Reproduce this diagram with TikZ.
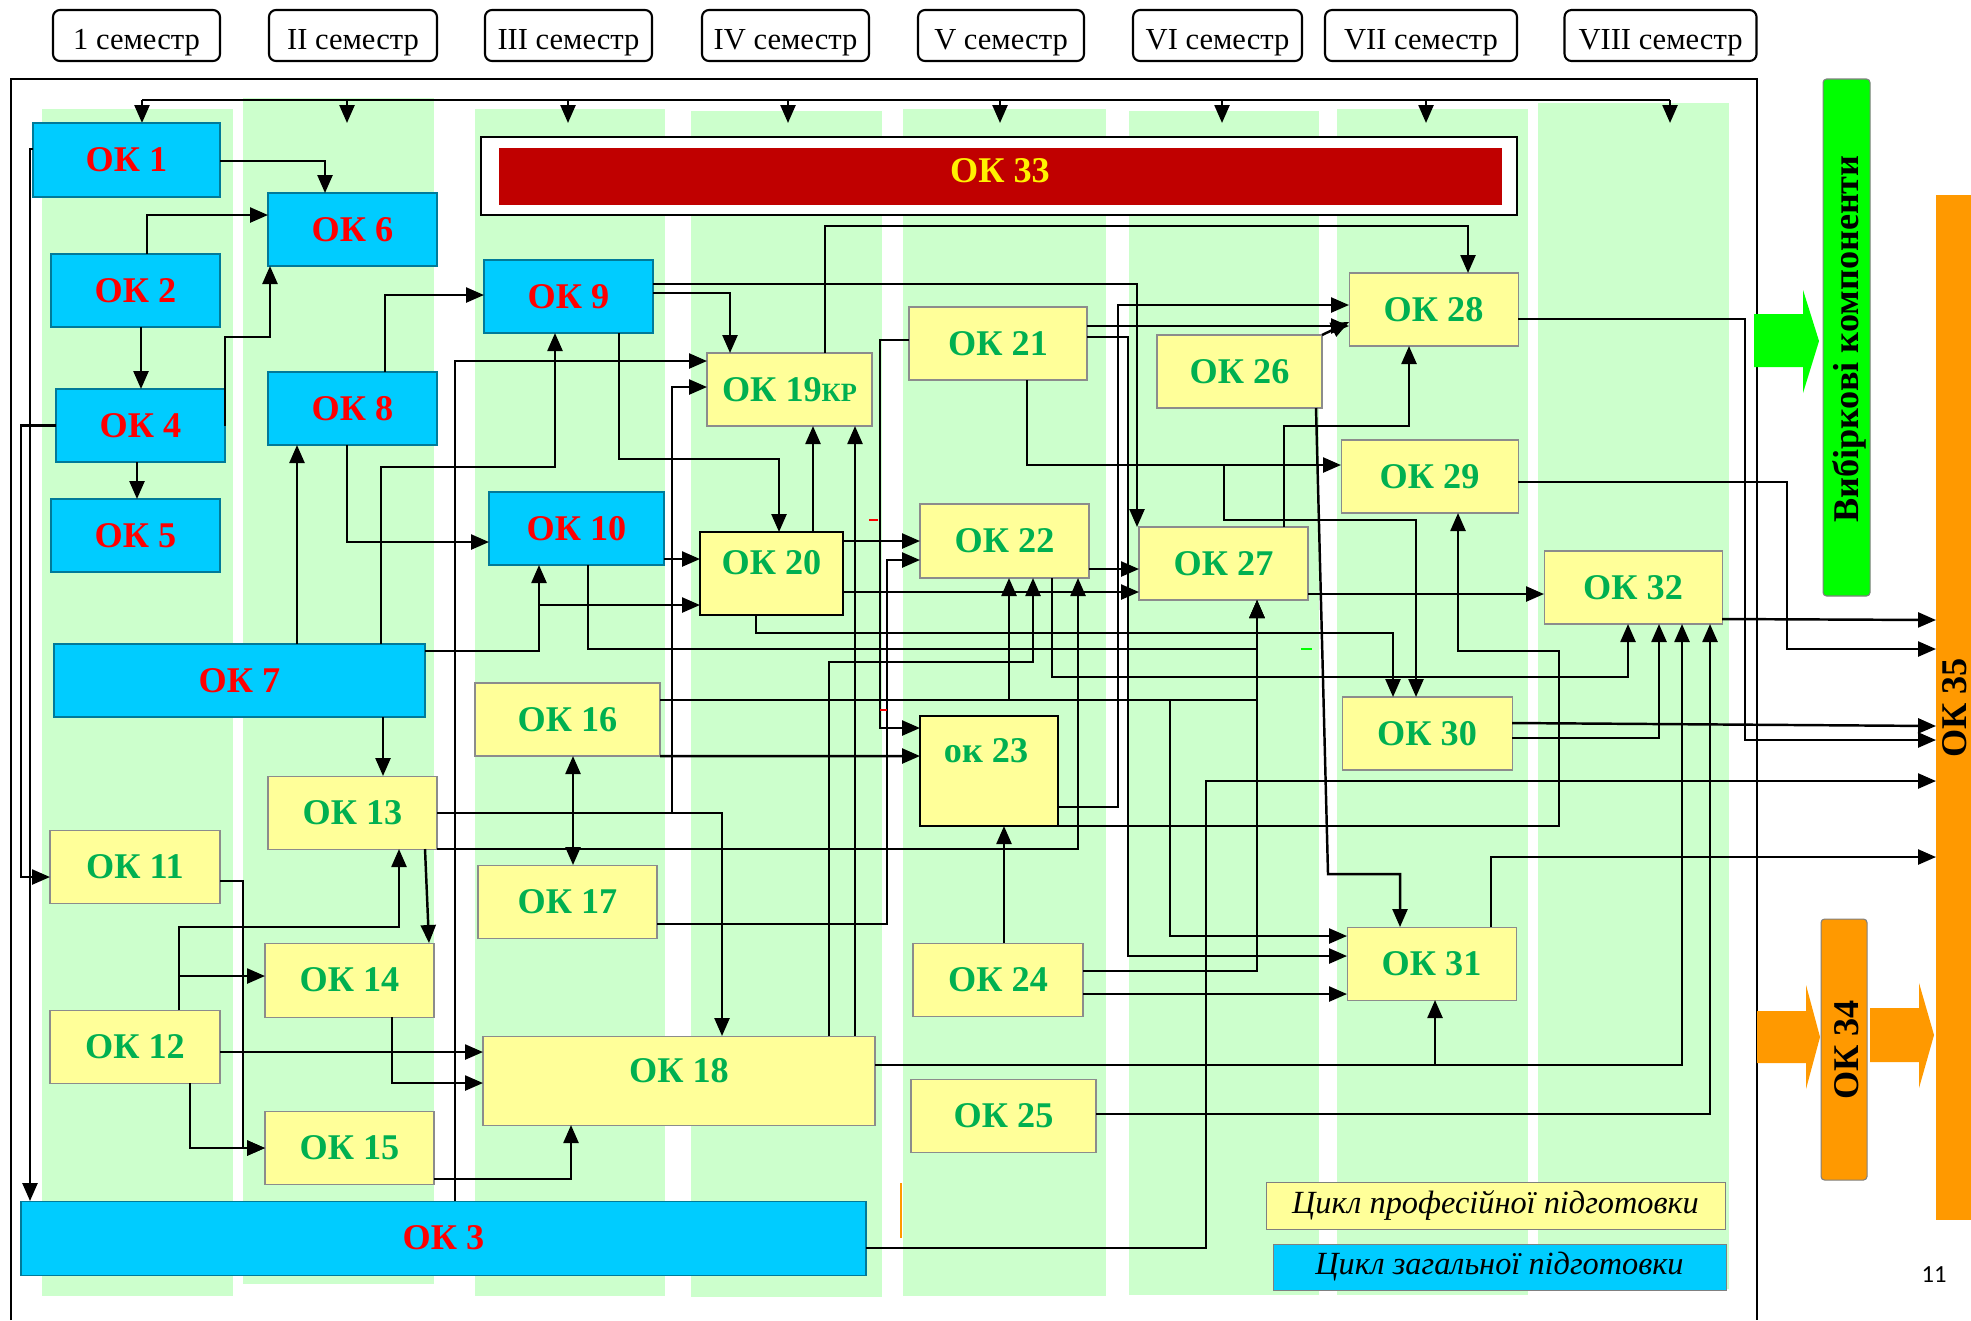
\documentclass[tikz,border=0pt]{standalone}
\usepackage{fontspec}
\setmainfont{Liberation Serif}
\newfontfamily\pagefont{Carlito}
\usepackage{tikz}
\usetikzlibrary{arrows.meta}

\definecolor{okblue}{RGB}{0,204,255}
\definecolor{okred}{RGB}{255,0,0}
\definecolor{okyellow}{RGB}{255,255,153}
\definecolor{okgreen}{RGB}{0,176,80}
\definecolor{colgreen}{RGB}{204,255,204}
\definecolor{barred}{RGB}{192,0,0}
\definecolor{barlime}{RGB}{0,255,0}
\definecolor{barorange}{RGB}{255,153,0}

\newcommand{\okfont}{\bfseries\fontsize{10.3}{12}\selectfont}

\tikzset{
  sz/.style 2 args={minimum width=#1mm, minimum height=#2mm},
  okb/.style={fill=okblue, draw=okblue!60!black, line width=0.3pt, text=okred,
    font=\okfont, inner sep=0pt, outer sep=0pt},
  oky/.style={fill=okyellow, draw=black!45, line width=0.3pt, text=okgreen,
    font=\okfont, inner sep=0pt, outer sep=0pt},
  okthick/.style={oky, draw=black, line width=0.8pt},
  semhead/.style={draw, fill=white, rounded corners=2pt, line width=0.6pt,
    minimum height=5.1mm, inner sep=0pt, text height=3mm, text depth=0.3mm,
    font=\fontsize{8.7}{10}\selectfont},
  legend/.style={draw=black!50, line width=0.3pt, inner sep=0pt,
    font=\itshape\fontsize{9.2}{11}\selectfont},
  ln/.style={line width=0.7pt},
  arr/.style={->, line width=0.7pt},
}

\begin{document}
\begin{tikzpicture}[x=0.1mm, y=-0.1mm, >={Triangle[length=1.8mm,width=1.5mm]}]
    \clip (0,0) rectangle (1971,1320);

    % Semester columns
    \foreach \xa/\ya/\xb/\yb in {42/109/233/1296, 243/98/434/1284, 475/109/665/1296,
        691/111/882/1297, 903/109/1106/1296, 1129/111/1319/1295, 1337/109/1528/1295,
        1538/103/1729/1289}
      \fill[colgreen] (\xa,\ya) rectangle (\xb,\yb);

    % Semester heads
    \foreach \cx/\bw/\txt [count=\i] in {136.5/16.7/1 семестр, 353/16.8/II семестр,
        568.5/16.7/III семестр, 785.5/16.7/IV семестр, 1001/16.6/V семестр,
        1217.5/16.9/VI семестр, 1421/19.2/VII семестр, 1660.5/19.2/VIII семестр}
      \node[semhead, minimum width=\bw mm] (sem\i) at (\cx,35.5) {\txt};

    % Frame and top line
    \draw[line width=0.8pt] (11,1320) |- (1757,79) -- (1757,1320);
    \draw[ln] (142,100) -- (1670,100);
    \foreach \x in {142,347,568,788,1000,1222,1426,1670}
      \draw[arr] (\x,100) -- (\x,123);

    % OK 33
    \draw[line width=0.8pt, fill=white] (481,137) rectangle (1517,215);
    \node[fill=barred, sz={100.3}{5.7}] (ok33) at (1000.5,176.5) {};
    \node[text=yellow, font=\okfont] (ok33t) at (1000,171) {ОК 33};

    % General training cycle
    \node[okb, sz={18.7}{7.4}] (ok1) at (126.5,160) {ОК 1};
    \node[okb, sz={16.9}{7.3}] (ok2) at (135.5,290.5) {ОК 2};
    \node[okb, sz={16.9}{7.3}] (ok4) at (140.5,425.5) {ОК 4};
    \node[okb, sz={16.9}{7.3}] (ok5) at (135.5,535.5) {ОК 5};
    \node[okb, sz={16.9}{7.3}] (ok6) at (352.5,229.5) {ОК 6};
    \node[okb, sz={16.9}{7.3}] (ok8) at (352.5,408.5) {ОК 8};
    \node[okb, sz={16.9}{7.3}] (ok9) at (568.5,296.5) {ОК 9};
    \node[okb, sz={17.5}{7.3}] (ok10) at (576.5,528.5) {ОК 10};
    \node[okb, sz={37.1}{7.3}] (ok7) at (239.5,680.5) {ОК 7};
    \node[okb, sz={84.5}{7.4}] (ok3) at (443.5,1238) {ОК 3};

    % Professional training cycle
    \node[oky, sz={17.0}{7.3}] (ok11) at (135,866.5) {ОК 11};
    \node[oky, sz={17.0}{7.3}] (ok12) at (135,1046.5) {ОК 12};
    \node[oky, sz={16.9}{7.3}] (ok13) at (352.5,812.5) {ОК 13};
    \node[oky, sz={16.9}{7.4}] (ok14) at (349.5,980) {ОК 14};
    \node[oky, sz={16.9}{7.3}] (ok15) at (349.5,1147.5) {ОК 15};
    \node[oky, sz={18.5}{7.3}] (ok16) at (567.5,719.5) {ОК 16};
    \node[oky, sz={17.9}{7.3}] (ok17) at (567.5,901.5) {ОК 17};
    \node[oky, sz={39.2}{8.9}] (ok18) at (679,1080.5) {};
    \node[text=okgreen, font=\okfont] (ok18t) at (679,1071) {ОК 18};
    \node[oky, sz={16.5}{7.3}] (ok19) at (789.5,389.5) {ОК 19{\fontsize{7.5}{8}\selectfont КР}};
    \node[okthick, sz={14.3}{8.3}] (ok20) at (771.5,573.5) {};
    \node[text=okgreen, font=\okfont] (ok20t) at (771.5,563) {ОК 20};
    \node[oky, sz={17.8}{7.3}] (ok21) at (998,343.5) {ОК 21};
    \node[oky, sz={16.9}{7.4}] (ok22) at (1004.5,541) {ОК 22};
    \node[okthick, sz={13.8}{11.0}] (ok23) at (989,771) {};
    \node[text=okgreen, font=\okfont] (ok23t) at (986,751) {ок 23};
    \node[oky, sz={17.0}{7.3}] (ok24) at (998,979.5) {ОК 24};
    \node[oky, sz={18.5}{7.3}] (ok25) at (1003.5,1115.5) {ОК 25};
    \node[oky, sz={16.5}{7.3}] (ok26) at (1239.5,371.5) {ОК 26};
    \node[oky, sz={16.9}{7.3}] (ok27) at (1223.5,563.5) {ОК 27};
    \node[oky, sz={16.9}{7.3}] (ok28) at (1433.5,309.5) {ОК 28};
    \node[oky, sz={17.7}{7.3}] (ok29) at (1429.5,476.5) {ОК 29};
    \node[oky, sz={17.0}{7.3}] (ok30) at (1427,733.5) {ОК 30};
    \node[oky, sz={16.9}{7.3}] (ok31) at (1431.5,963.5) {ОК 31};
    \node[oky, sz={17.8}{7.3}] (ok32) at (1633,587.5) {ОК 32};

    % Right panels
    \node[fill=barlime, draw=black!50, line width=0.3pt, rounded corners=1pt, sz={4.7}{51.7}] (vib) at (1846.5,337.5) {};
    \node[rotate=90, font=\okfont] (vibt) at (1849,339) {Вибіркові компоненти};
    \fill[barlime] (1754,314) -- (1803,314) -- (1803,290) -- (1819,341) -- (1803,393) -- (1803,367) -- (1754,367) -- cycle;
    \node[fill=barorange, draw=black!50, line width=0.3pt, rounded corners=1pt, sz={4.6}{26.1}] (ok34) at (1844,1049.5) {};
    \node[rotate=90, font=\okfont] (ok34t) at (1847,1050) {ОК 34};
    \fill[barorange] (1757,1011) -- (1806,1011) -- (1806,985) -- (1820,1037) -- (1806,1089) -- (1806,1063) -- (1757,1063) -- cycle;
    \fill[barorange] (1870,1008) -- (1919,1008) -- (1919,983) -- (1934,1035) -- (1919,1088) -- (1919,1062) -- (1870,1062) -- cycle;
    \node[fill=barorange, inner sep=0pt, outer sep=0pt, sz={7}{102.5}] (ok35) at (1971,707.5) {};
    \node[rotate=90, font=\okfont] (ok35t) at (1955,708) {ОК 35};

    % Legend
    \node[legend, fill=okyellow, sz={45.9}{4.7}] (leg1) at (1495.5,1205.5) {Цикл професійної підготовки};
    \node[legend, fill=okblue, sz={45.3}{4.6}] (leg2) at (1499.5,1267) {Цикл загальної підготовки};
    \node[font=\pagefont\fontsize{7}{8}\selectfont] (pgnum) at (1934,1275) {11};

    % Links: semesters I-II
    \draw[arr] (ok1.east |- 0,161) -| (ok6.north -| 325,0);
    \draw[arr] (ok2.north -| 147,0) |- (ok6.west |- 0,215);
    \draw[arr] (ok2.south -| 141,0) -- (ok4.north -| 141,0);
    \draw[arr] (ok4.east) |- (270,337) -- (ok6.south -| 270,0);
    \draw[arr] (ok4.south -| 137,0) -- (ok5.north -| 137,0);
    \draw[arr] (ok1.west |- 0,149) -- (30,149) -- (ok3.north -| 30,0);
    \draw[arr] (ok4.west) -| (21,877) -- (ok11.west |- 0,877);
    \draw[arr] (ok8.north -| 385,0) |- (ok9.west |- 0,295);
    \draw[arr] (ok8.south -| 347,0) |- (ok10.west |- 0,542);
    \draw[arr] (ok7.north -| 297,0) -- (ok8.south -| 297,0);
    \draw[arr] (ok7.north -| 381,0) |- (555,467) -- (ok9.south -| 555,0);
    \draw[arr] (ok7.south -| 383,0) -- (ok13.north -| 383,0);
    \draw[arr] (ok12.north -| 179,0) |- (399,927) -- (ok13.south -| 399,0);
    \draw[arr] (ok12.north -| 179,0) |- (ok14.west |- 0,976);
    \draw[arr] (ok13.south -| 425,0) -- (ok14.north -| 429,0);
    \draw[arr] (ok11.east |- 0,881) -| (243,1148) -- (ok15.west |- 0,1148);
    \draw[arr] (ok12.south -| 190,0) |- (ok15.west |- 0,1148);
    \draw[arr] (ok12.east |- 0,1052) -- (ok18.west |- 0,1052);
    \draw[arr] (ok14.south -| 392,0) |- (ok18.west |- 0,1083);
    \draw[arr] (ok15.east |- 0,1179) -| (ok18.south -| 571,0);

    % Links: semesters III-IV
    \draw[arr] (ok3.north -| 455,0) |- (ok19.west |- 0,361);
    \draw[arr] (ok9.east |- 0,284) -| (ok27.north -| 1137,0);
    \draw[arr] (ok9.east |- 0,293) -| (ok19.north -| 730,0);
    \draw[arr] (ok9.south -| 619,0) |- (779,459) -- (ok20.north -| 779,0);
    \draw[arr] (ok10.east |- 0,559) -- (ok20.west |- 0,559);
    \draw[arr] (ok7.east |- 0,651) -| (ok10.south -| 539,0);
    \draw[arr] (ok7.east |- 0,651) -| (539,605) -- (ok20.west |- 0,605);
    \draw[arr] (ok10.south -| 588,0) |- (1257,649) -- (ok27.south -| 1257,0);
    \draw[arr] (ok13.east |- 0,813) -| (ok18.north -| 722,0);
    \draw[arr] (ok13.east |- 0,813) -| (672,387) -- (ok19.west |- 0,387);
    \draw[arr] (ok13.south east) -| (ok22.south -| 1078,0);
    \draw[<->, ln] (ok16.south -| 573,0) -- (ok17.north -| 573,0);
    \draw[arr] (ok16.south east) -- (ok23.west |- 0,756);
    \draw[arr] (ok16.east |- 0,700) -| (ok22.south -| 1009,0);
    \draw[arr] (ok16.east |- 0,700) -| (ok27.south -| 1257,0);
    \draw[arr] (ok16.east |- 0,700) -| (1170,936) -- (ok31.west |- 0,936);
    \draw[arr] (ok17.east |- 0,924) -| (887,560) -- (ok22.west |- 0,560);
    \draw[arr] (ok18.north -| 855,0) -- (ok19.south -| 855,0);
    \draw[arr] (ok18.north -| 829,0) |- (1033,662) -- (ok22.south -| 1033,0);
    \draw[arr] (ok18.east |- 0,1065) -| (ok32.south -| 1682,0);
    \draw[arr] (ok18.east |- 0,1065) -| (ok31.south -| 1435,0);
    \draw[arr] (ok19.north -| 825,0) |- (1468,226) -- (ok28.north -| 1468,0);
    \draw[arr] (ok20.north -| 813,0) -- (ok19.south -| 813,0);
    \draw[arr] (ok20.east |- 0,541) -- (ok22.west |- 0,541);
    \draw[arr] (ok20.east |- 0,592) -- (ok27.west |- 0,592);
    \draw[arr] (ok20.south -| 756,0) |- (1393,633) -- (ok30.north -| 1393,0);
    \draw[arr] (ok3.east |- 0,1248) -| (1206,781) -- (ok35.west |- 0,781);

    % Links: semesters V-VIII
    \draw[arr] (ok21.west |- 0,340) -| (880,728) -- (ok23.west |- 0,728);
    \draw[arr] (ok21.east |- 0,326) -- (ok28.west |- 0,326);
    \draw[arr] (ok21.east |- 0,337) -| (1128,956) -- (ok31.west |- 0,956);
    \draw[arr] (ok21.south -| 1027,0) |- (ok29.west |- 0,465);
    \draw[arr] (ok21.south -| 1027,0) |- (1224,465) |- (1416,520) -- (ok30.north -| 1416,0);
    \draw[arr] (ok22.east |- 0,569) -- (ok27.west |- 0,569);
    \draw[arr] (ok22.south -| 1052,0) |- (1628,677) -- (ok32.south -| 1628,0);
    \draw[arr] (ok23.east |- 0,807) -| (1118,305) -- (ok28.west |- 0,305);
    \draw[arr] (ok23.south east) -| (1559,651) -| (ok29.south -| 1458,0);
    \draw[arr] (ok24.north -| 1004,0) -- (ok23.south -| 1004,0);
    \draw[arr] (ok24.east |- 0,971) -| (ok27.south -| 1257,0);
    \draw[arr] (ok24.east |- 0,994) -- (ok31.west |- 0,994);
    \draw[arr] (ok25.east |- 0,1114) -| (ok32.south -| 1710,0);
    \draw[arr] (ok26.north east) -- (ok28.west |- 0,322);
    \draw[arr] (ok26.south -| 1316,0) -- (1328,874) -| (ok31.north -| 1400,0);
    \draw[arr] (ok27.north -| 1284,0) |- (1409,426) -- (ok28.south -| 1409,0);
    \draw[arr] (ok27.east |- 0,594) -- (ok32.west |- 0,594);
    \draw[arr] (ok28.east |- 0,319) -| (1745,740) -- (ok35.west |- 0,740);
    \draw[arr] (ok29.east |- 0,482) -| (1787,649) -- (ok35.west |- 0,649);
    \draw[arr] (ok30.east |- 0,723) -- (ok35.west |- 0,726);
    \draw[arr] (ok30.east |- 0,738) -| (ok32.south -| 1659,0);
    \draw[arr] (ok31.north -| 1491,0) |- (ok35.west |- 0,857);
    \draw[arr] (ok32.east |- 0,619) -- (ok35.west |- 0,620);

    % Stray marks
    \draw[red, line width=0.6pt] (869,520) -- (878,520);
    \draw[red, line width=0.6pt] (880,710) -- (887,710);
    \draw[barlime, line width=0.6pt] (1301,649) -- (1312,649);
    \draw[barorange, line width=0.6pt] (901,1183) -- (901,1238);
\end{tikzpicture}
\end{document}
